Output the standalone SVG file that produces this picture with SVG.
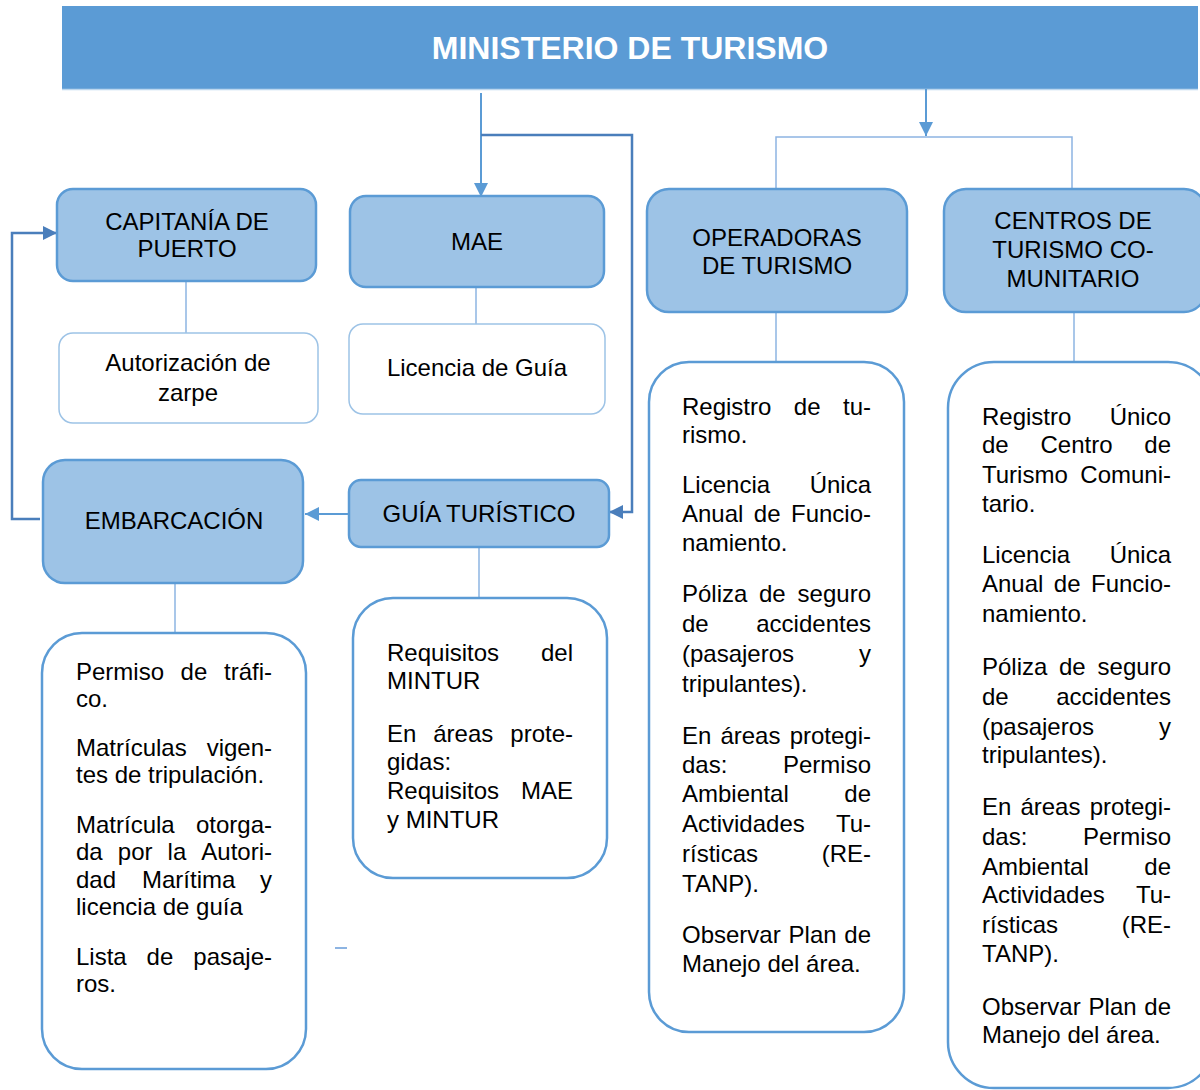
<svg xmlns="http://www.w3.org/2000/svg" width="1200" height="1090" viewBox="0 0 1200 1090">
<defs>
<style>
text{font-family:"Liberation Sans",Arial,sans-serif;font-size:24px;fill:#000}
.hdr{font-size:32px;font-weight:bold;fill:#fff}
.c{text-anchor:middle}
.e{text-anchor:end}
.node{fill:#9DC3E6;stroke:#5B9BD5;stroke-width:2.5}
.box{fill:#fff;stroke:#5B9BD5;stroke-width:2.5}
.lbox{fill:#fff;stroke:#9DC3E6;stroke-width:1.5}
.lt{fill:none;stroke:#8DB4E2;stroke-width:1.5}
.ar{fill:none;stroke:#5B9BD5;stroke-width:2}
.dk{fill:none;stroke:#4A7EBB;stroke-width:2.5}
</style>
<marker id="ah" markerUnits="userSpaceOnUse" markerWidth="16" markerHeight="14" refX="14" refY="7" orient="auto">
<path d="M0,0 L14,7 L0,14 Z" fill="#5B9BD5"/>
</marker>
<marker id="ahd" markerUnits="userSpaceOnUse" markerWidth="16" markerHeight="14" refX="14" refY="7" orient="auto">
<path d="M0,0 L14,7 L0,14 Z" fill="#4A7EBB"/>
</marker>
</defs>

<g id="header">
<rect x="62" y="6" width="1136" height="83" fill="#5B9BD5"/>
<line x1="62" y1="89.5" x2="1198" y2="89.5" stroke="#BDD7EE" stroke-width="1.5"/>
<text class="hdr c" x="630" y="59">MINISTERIO DE TURISMO</text>
</g>

<g id="connectors">
<line class="ar" x1="481" y1="93" x2="481" y2="197" marker-end="url(#ah)"/>
<line class="ar" x1="926" y1="89" x2="926" y2="136" marker-end="url(#ah)"/>
<polyline class="dk" points="481,135 632,135 632,512 609,512" marker-end="url(#ahd)"/>
<line class="ar" x1="349" y1="514" x2="305" y2="514" marker-end="url(#ah)"/>
<polyline class="dk" points="40,519 12,519 12,233 57,233" marker-end="url(#ahd)"/>
<polyline class="lt" points="776,188 776,137 1072,137 1072,188"/>
<line class="lt" x1="186" y1="282" x2="186" y2="333"/>
<line class="lt" x1="476" y1="288" x2="476" y2="324"/>
<line class="lt" x1="175" y1="584" x2="175" y2="633"/>
<line class="lt" x1="479" y1="548" x2="479" y2="598"/>
<line class="lt" x1="776" y1="313" x2="776" y2="362"/>
<line class="lt" x1="1074" y1="313" x2="1074" y2="362"/>
<line x1="335" y1="948" x2="347" y2="948" stroke="#8DB4E2" stroke-width="2"/>
</g>

<g id="capitania">
<rect class="node" x="57" y="189" width="259" height="92" rx="16"/>
<text class="c" x="187" y="230">CAPITANÍA DE</text>
<text class="c" x="187" y="257">PUERTO</text>
</g>

<g id="autorizacion">
<rect class="lbox" x="59" y="333" width="259" height="90" rx="14"/>
<text class="c" x="188" y="371">Autorización de</text>
<text class="c" x="188" y="401">zarpe</text>
</g>

<g id="mae">
<rect class="node" x="350" y="196" width="254" height="91" rx="16"/>
<text class="c" x="477" y="250">MAE</text>
</g>

<g id="licencia">
<rect class="lbox" x="349" y="324" width="256" height="90" rx="14"/>
<text class="c" x="477" y="376">Licencia de Guía</text>
</g>

<g id="embarcacion">
<rect class="node" x="43" y="460" width="260" height="123" rx="22"/>
<text class="c" x="174" y="529">EMBARCACIÓN</text>
</g>

<g id="guia">
<rect class="node" x="349" y="480" width="260" height="67" rx="12"/>
<text class="c" x="479" y="522">GUÍA TURÍSTICO</text>
</g>

<g id="operadoras">
<rect class="node" x="647" y="189" width="260" height="123" rx="22"/>
<text class="c" x="777" y="246">OPERADORAS</text>
<text class="c" x="777" y="274">DE TURISMO</text>
</g>

<g id="centros">
<rect class="node" x="944" y="189" width="262" height="123" rx="22"/>
<text class="c" x="1073" y="229">CENTROS DE</text>
<text class="c" x="1073" y="258">TURISMO CO-</text>
<text class="c" x="1073" y="287">MUNITARIO</text>
</g>

<g id="req-embarcacion">
<rect class="box" x="42" y="633" width="264" height="436" rx="40"/>
<text y="680"><tspan x="76">Permiso</tspan><tspan x="180.6">de</tspan><tspan x="272" class="e">tráfi-</tspan></text>
<text x="76" y="707">co.</text>
<text y="756"><tspan x="76">Matrículas</tspan><tspan x="272" class="e">vigen-</tspan></text>
<text x="76" y="783">tes de tripulación.</text>
<text y="833"><tspan x="76">Matrícula</tspan><tspan x="272" class="e">otorga-</tspan></text>
<text y="860"><tspan x="76">da</tspan><tspan x="117.8">por</tspan><tspan x="167.6">la</tspan><tspan x="272" class="e">Autori-</tspan></text>
<text y="888"><tspan x="76">dad</tspan><tspan x="142">Marítima</tspan><tspan x="272" class="e">y</tspan></text>
<text x="76" y="915">licencia de guía</text>
<text y="965"><tspan x="76">Lista</tspan><tspan x="146.6">de</tspan><tspan x="272" class="e">pasaje-</tspan></text>
<text x="76" y="992">ros.</text>
</g>

<g id="req-guia">
<rect class="box" x="353" y="598" width="254" height="280" rx="40"/>
<text y="661"><tspan x="387">Requisitos</tspan><tspan x="573" class="e">del</tspan></text>
<text x="387" y="689">MINTUR</text>
<text y="742"><tspan x="387">En</tspan><tspan x="433.2">áreas</tspan><tspan x="573" class="e">prote-</tspan></text>
<text x="387" y="770">gidas:</text>
<text y="799"><tspan x="387">Requisitos</tspan><tspan x="573" class="e">MAE</tspan></text>
<text x="387" y="828">y MINTUR</text>
</g>

<g id="req-operadoras">
<rect class="box" x="649" y="362" width="255" height="670" rx="40"/>
<text y="415"><tspan x="682">Registro</tspan><tspan x="793.8">de</tspan><tspan x="871" class="e">tu-</tspan></text>
<text x="682" y="443">rismo.</text>
<text y="493"><tspan x="682">Licencia</tspan><tspan x="871" class="e">Única</tspan></text>
<text y="522"><tspan x="682">Anual</tspan><tspan x="753.8">de</tspan><tspan x="871" class="e">Funcio-</tspan></text>
<text x="682" y="551">namiento.</text>
<text y="602"><tspan x="682">Póliza</tspan><tspan x="759">de</tspan><tspan x="871" class="e">seguro</tspan></text>
<text y="632"><tspan x="682">de</tspan><tspan x="871" class="e">accidentes</tspan></text>
<text y="662"><tspan x="682">(pasajeros</tspan><tspan x="871" class="e">y</tspan></text>
<text x="682" y="692">tripulantes).</text>
<text y="744"><tspan x="682">En</tspan><tspan x="720.4">áreas</tspan><tspan x="871" class="e">protegi-</tspan></text>
<text y="773"><tspan x="682">das:</tspan><tspan x="871" class="e">Permiso</tspan></text>
<text y="802"><tspan x="682">Ambiental</tspan><tspan x="871" class="e">de</tspan></text>
<text y="832"><tspan x="682">Actividades</tspan><tspan x="871" class="e">Tu-</tspan></text>
<text y="862"><tspan x="682">rísticas</tspan><tspan x="871" class="e">(RE-</tspan></text>
<text x="682" y="892">TANP).</text>
<text y="943"><tspan x="682">Observar</tspan><tspan x="788.6">Plan</tspan><tspan x="871" class="e">de</tspan></text>
<text x="682" y="972">Manejo del área.</text>
</g>

<g id="req-centros">
<rect class="box" x="948" y="362" width="266" height="726" rx="46"/>
<text y="425"><tspan x="982">Registro</tspan><tspan x="1171" class="e">Único</tspan></text>
<text y="453"><tspan x="982">de</tspan><tspan x="1040.5">Centro</tspan><tspan x="1171" class="e">de</tspan></text>
<text y="483"><tspan x="982">Turismo</tspan><tspan x="1171" class="e">Comuni-</tspan></text>
<text x="982" y="512">tario.</text>
<text y="563"><tspan x="982">Licencia</tspan><tspan x="1171" class="e">Única</tspan></text>
<text y="592"><tspan x="982">Anual</tspan><tspan x="1053.8">de</tspan><tspan x="1171" class="e">Funcio-</tspan></text>
<text x="982" y="622">namiento.</text>
<text y="675"><tspan x="982">Póliza</tspan><tspan x="1059">de</tspan><tspan x="1171" class="e">seguro</tspan></text>
<text y="705"><tspan x="982">de</tspan><tspan x="1171" class="e">accidentes</tspan></text>
<text y="735"><tspan x="982">(pasajeros</tspan><tspan x="1171" class="e">y</tspan></text>
<text x="982" y="763">tripulantes).</text>
<text y="815"><tspan x="982">En</tspan><tspan x="1020.4">áreas</tspan><tspan x="1171" class="e">protegi-</tspan></text>
<text y="845"><tspan x="982">das:</tspan><tspan x="1171" class="e">Permiso</tspan></text>
<text y="875"><tspan x="982">Ambiental</tspan><tspan x="1171" class="e">de</tspan></text>
<text y="903"><tspan x="982">Actividades</tspan><tspan x="1171" class="e">Tu-</tspan></text>
<text y="933"><tspan x="982">rísticas</tspan><tspan x="1171" class="e">(RE-</tspan></text>
<text x="982" y="962">TANP).</text>
<text y="1015"><tspan x="982">Observar</tspan><tspan x="1088.6">Plan</tspan><tspan x="1171" class="e">de</tspan></text>
<text x="982" y="1043">Manejo del área.</text>
</g>
</svg>
